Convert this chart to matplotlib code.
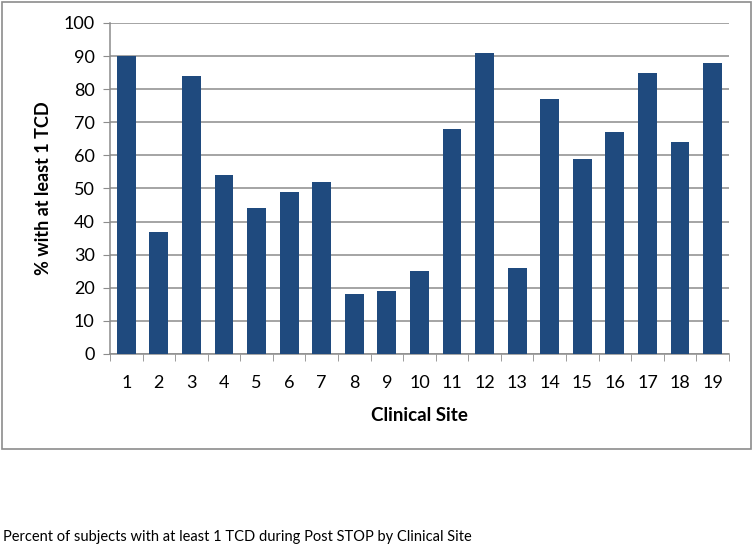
import numpy as np
import matplotlib
matplotlib.use('Agg')
import matplotlib.pyplot as plt
from matplotlib.patches import Rectangle

# percent with at least 1 TCD, by clinical site
sites = [str(i) for i in range(1, 20)]
pct = [90, 37, 84, 54, 44, 49, 52, 18, 19, 25, 68, 91, 26, 77, 59, 67, 85, 64, 88]

plt.rcParams['font.family'] = ['Lato', 'DejaVu Sans']

fig = plt.figure(figsize=(7.53, 5.58), dpi=100)
ax = fig.add_axes([0.146, 0.3656, 0.822, 0.5932])

x = np.arange(len(sites))
ax.bar(x, pct, width=0.58, color='#1f4a7e', zorder=3)

ax.set_xlim(-0.5, len(sites) - 0.5)
ax.set_ylim(0, 100)
ax.set_yticks(range(0, 101, 10))
ax.yaxis.grid(True, color='#8c8c8c', linewidth=1.1, zorder=0)

# category labels centred, tick marks between categories
ax.set_xticks(x)
ax.set_xticklabels(sites, fontsize=13)
ax.set_xticks(np.arange(-0.5, len(sites)), minor=True)
ax.tick_params(axis='x', which='major', length=0, pad=15)
ax.tick_params(axis='x', which='minor', length=5, color='#8c8c8c', direction='out')
ax.tick_params(axis='y', length=5, color='#8c8c8c', labelsize=13, pad=6)

for s in ['top', 'right']:
    ax.spines[s].set_visible(False)
for s in ['left', 'bottom']:
    ax.spines[s].set_color('#8c8c8c')
    ax.spines[s].set_linewidth(1.1)

ax.set_ylabel('% with at least 1 TCD', fontsize=13, fontweight='bold', labelpad=8)
ax.set_xlabel('Clinical Site', fontsize=13.5, fontweight='bold', labelpad=12)

# chart frame
fig.patches.append(Rectangle((2 / 753, 1 - 449 / 558), 749 / 753, 447 / 558,
                             transform=fig.transFigure, fill=False,
                             edgecolor='#8c8c8c', linewidth=1.2))

fig.text(3 / 753, 1 - 537 / 558, 'Percent of subjects with at least 1 TCD during Post STOP by Clinical Site',
         fontsize=10.5, va='center', ha='left')

plt.savefig('out.png', dpi=100)
